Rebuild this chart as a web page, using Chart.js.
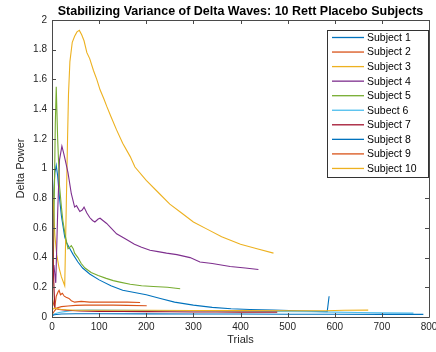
<!DOCTYPE html>
<html><head><meta charset="utf-8">
<script src="https://cdn.jsdelivr.net/npm/chart.js@4/dist/chart.umd.min.js"></script>
<style>html,body{margin:0;padding:0;background:#fff;overflow:hidden}#wrap{width:436px;height:352px;position:relative}</style>
</head><body><div id="wrap"><canvas id="c" width="436" height="352"></canvas></div>
<script>
// ---- text ----
const chartTitle = "Stabilizing Variance of Delta Waves: 10 Rett Placebo Subjects";
const xAxisTitle = "Trials";
const yAxisTitle = "Delta Power";
const subjectLabels = ["Subject 1","Subject 2","Subject 3","Subject 4","Subject 5","Subect 6","Subject 7","Subject 8","Subject 9","Subject 10"];
const subjectColors = ["#0072BD","#D95319","#EDB120","#7E2F8E","#77AC30","#4DBEEE","#A2142F","#0072BD","#D95319","#EDB120"];

// ---- axes ----
const xMin = 0, xMax = 800, xStep = 100;
const yMin = 0, yMax = 2, yStep = 0.2;

// ---- data ----
const s1Trials = [1,3,6,9,12,16,20,27,31,38,45,55,65,80,100,125,150,175,200,230,260,300,340,380,420,470,520,560,584,588];
const s1Values = [0.5,0.8,0.97,1.02,0.95,0.8,0.68,0.54,0.5,0.46,0.42,0.37,0.33,0.29,0.25,0.21,0.18,0.165,0.15,0.125,0.1,0.08,0.065,0.056,0.051,0.047,0.042,0.038,0.036,0.14];

const s2Trials = [1,4,6,9,13,15,18,22,26,30,36,41,48,62,80,98,120,141,160,187];
const s2Values = [0.12,0.08,0.07,0.14,0.17,0.18,0.15,0.16,0.14,0.133,0.125,0.11,0.1,0.105,0.1,0.1,0.1,0.1,0.1,0.098];

const s3Trials = [1,3,6,10,15,20,27,30,33,35,38,43,48,53,58,63,68,74,80,88,95,102,110,116,125,137,150,166,176,200,225,250,275,300,330,360,400,435,470];
const s3Values = [0.9,0.75,0.55,0.42,0.33,0.27,0.21,0.7,1.2,1.5,1.72,1.85,1.89,1.92,1.93,1.9,1.86,1.78,1.74,1.66,1.6,1.53,1.47,1.42,1.35,1.26,1.17,1.08,1.01,0.92,0.84,0.76,0.7,0.64,0.59,0.54,0.49,0.46,0.43];

const s4Trials = [4,8,12,16,21,25,30,34,41,48,52,59,64,68,74,80,86,91,98,102,108,116,125,137,148,159,175,190,208,225,243,265,293,314,340,378,410,438];
const s4Values = [0.35,0.23,0.7,1.06,1.15,1.1,1.03,0.97,0.83,0.74,0.75,0.71,0.72,0.74,0.7,0.67,0.65,0.64,0.66,0.665,0.65,0.63,0.6,0.56,0.54,0.52,0.49,0.47,0.45,0.44,0.43,0.42,0.4,0.37,0.36,0.34,0.33,0.32];

const s5Trials = [1,4,7,9,12,16,20,23,28,34,38,41,45,48,55,62,70,83,98,115,130,144,166,190,215,245,272];
const s5Values = [0.05,0.6,1.3,1.55,1.2,0.88,0.74,0.65,0.55,0.46,0.47,0.48,0.46,0.43,0.4,0.36,0.33,0.3,0.28,0.26,0.245,0.235,0.22,0.21,0.205,0.2,0.19];

const s6Trials = [1,5,15,30,48,80,150,250,350,450,550,600,650,700,767];
const s6Values = [0.01,0.02,0.03,0.038,0.045,0.047,0.045,0.042,0.04,0.037,0.035,0.033,0.03,0.028,0.026];

const s7Trials = [1,3,6,15,30,60,100,150,200,250,300,350,400,440,478];
const s7Values = [0.8,0.3,0.06,0.05,0.045,0.04,0.038,0.037,0.036,0.035,0.034,0.034,0.033,0.033,0.033];

const s8Trials = [1,5,20,50,100,200,300,400,500,600,700,788];
const s8Values = [0.01,0.015,0.02,0.022,0.022,0.021,0.02,0.02,0.019,0.019,0.018,0.018];

const s9Trials = [1,5,10,20,34,50,70,98,130,160,201];
const s9Values = [0.02,0.04,0.06,0.07,0.074,0.078,0.08,0.08,0.08,0.078,0.076];

const s10Trials = [1,5,20,50,100,200,300,400,500,580,620,671];
const s10Values = [0.05,0.06,0.05,0.045,0.045,0.045,0.044,0.043,0.042,0.042,0.045,0.046];

const allTrials = [s1Trials,s2Trials,s3Trials,s4Trials,s5Trials,s6Trials,s7Trials,s8Trials,s9Trials,s10Trials];
const allValues = [s1Values,s2Values,s3Values,s4Values,s5Values,s6Values,s7Values,s8Values,s9Values,s10Values];

const FONT = "'Liberation Sans', Arial, Helvetica, sans-serif";
Chart.defaults.font.family = FONT;

const datasets = subjectLabels.map((lab, i) => ({
  label: lab,
  data: allTrials[i].map((t, k) => ({x: t, y: allValues[i][k]})),
  borderColor: subjectColors[i],
  backgroundColor: subjectColors[i],
  borderWidth: 1.1,
  pointRadius: 0,
  tension: 0,
  fill: false,
  order: 10 - i
}));

const axesPlugin = {
  id: 'matlabAxes',
  afterDatasetsDraw(chart) {
    const {ctx, chartArea: a, scales} = chart;
    ctx.save();
    ctx.strokeStyle = '#4a4a4a';
    ctx.lineWidth = 1;
    ctx.beginPath();
    ctx.rect(Math.round(a.left) + 0.5, Math.round(a.top) + 0.5, Math.round(a.right - a.left), Math.round(a.bottom - a.top));
    ctx.stroke();
    const tl = 4;
    ctx.beginPath();
    scales.x.ticks.forEach(t => {
      const px = Math.round(scales.x.getPixelForValue(t.value)) + 0.5;
      ctx.moveTo(px, a.bottom); ctx.lineTo(px, a.bottom - tl);
      ctx.moveTo(px, a.top); ctx.lineTo(px, a.top + tl);
    });
    scales.y.ticks.forEach(t => {
      const py = Math.round(scales.y.getPixelForValue(t.value)) + 0.5;
      ctx.moveTo(a.left, py); ctx.lineTo(a.left + tl, py);
      ctx.moveTo(a.right, py); ctx.lineTo(a.right - tl, py);
    });
    ctx.stroke();
    ctx.restore();
  },
  afterDraw(chart) {
    const {ctx, chartArea: a} = chart;
    ctx.save();
    // title
    ctx.fillStyle = '#000';
    ctx.font = "bold 12.5px " + FONT;
    ctx.textAlign = 'center';
    ctx.textBaseline = 'middle';
    ctx.fillText(chartTitle, (a.left + a.right) / 2, 12);
    // axis titles
    ctx.fillStyle = '#262626';
    ctx.font = "11px " + FONT;
    ctx.fillText(xAxisTitle, (a.left + a.right) / 2, 340);
    ctx.save();
    ctx.translate(21, (a.top + a.bottom) / 2);
    ctx.rotate(-Math.PI / 2);
    ctx.fillText(yAxisTitle, 0, 0);
    ctx.restore();
    // legend
    const lx = 327.5, ly = 30.5, lw = 101, lh = 147;
    ctx.fillStyle = '#fff';
    ctx.fillRect(lx, ly, lw, lh);
    ctx.strokeStyle = '#333';
    ctx.lineWidth = 1;
    ctx.strokeRect(lx, ly, lw, lh);
    ctx.font = "10.5px " + FONT;
    ctx.textAlign = 'left';
    ctx.textBaseline = 'middle';
    chart.data.datasets.forEach((ds, i) => {
      const y = 37.5 + i * 14.55;
      ctx.strokeStyle = ds.borderColor;
      ctx.lineWidth = 1.3;
      ctx.beginPath();
      ctx.moveTo(332, y); ctx.lineTo(364, y);
      ctx.stroke();
      ctx.fillStyle = '#000';
      ctx.fillText(ds.label, 367, y + 0.5);
    });
    ctx.restore();
  }
};

new Chart(document.getElementById('c'), {
  type: 'line',
  data: {datasets},
  options: {
    responsive: false,
    devicePixelRatio: 1,
    animation: false,
    events: [],
    layout: {padding: {left: 0, right: 7, top: 20, bottom: 0}},
    plugins: {legend: {display: false}, title: {display: false}, tooltip: {enabled: false}},
    scales: {
      x: {
        type: 'linear', min: xMin, max: xMax,
        grid: {display: false, drawTicks: false},
        border: {display: false},
        ticks: {stepSize: xStep, color: '#262626', font: {size: 10}, padding: 4, maxRotation: 0, autoSkip: false},
        afterFit(s) { s.height = 35; s.paddingLeft = 0; s.paddingRight = 0; }
      },
      y: {
        type: 'linear', min: yMin, max: yMax,
        grid: {display: false, drawTicks: false},
        border: {display: false},
        ticks: {stepSize: yStep, color: '#262626', font: {size: 10}, padding: 5, autoSkip: false,
          callback: v => String(Math.round(v * 10) / 10)},
        afterFit(s) { s.width = 52; s.paddingTop = 0; s.paddingBottom = 0; }
      }
    }
  },
  plugins: [axesPlugin]
});
</script>
</body></html>
